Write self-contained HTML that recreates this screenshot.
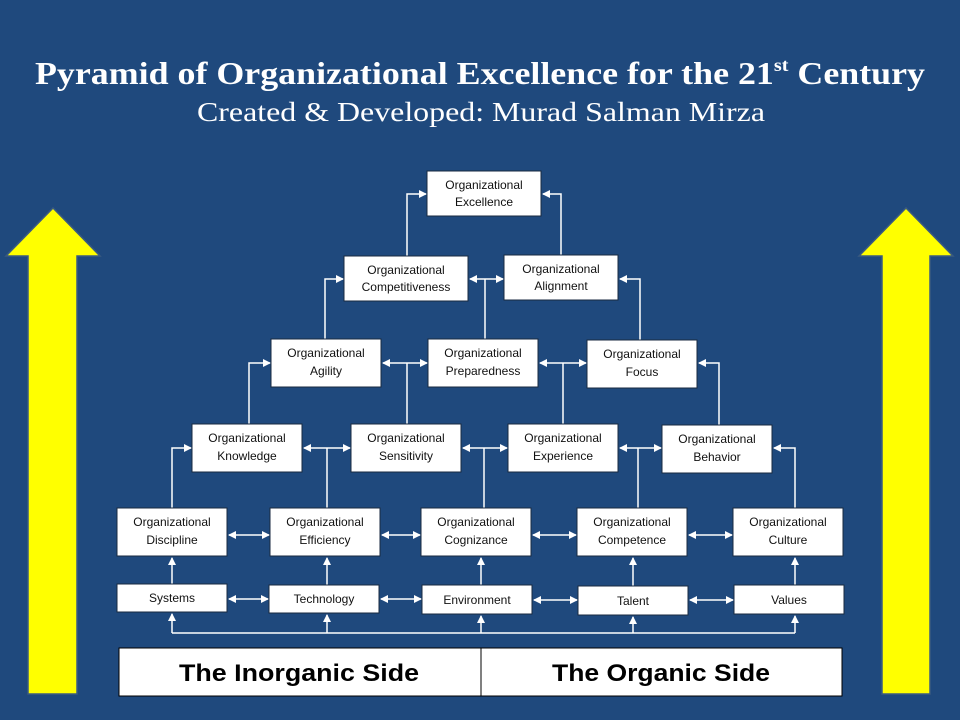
<!DOCTYPE html>
<html><head><meta charset="utf-8"><style>
html,body{margin:0;padding:0;background:#1f497d;}
svg{display:block}
.b{fill:#fff;stroke:#1a2a40;stroke-width:1}
.t{font-family:"Liberation Sans",sans-serif;font-size:12px;fill:#111;text-anchor:middle}
.l{stroke:#fff;stroke-width:1.5;fill:none}
</style></head><body>
<svg width="960" height="720" viewBox="0 0 960 720" xmlns="http://www.w3.org/2000/svg">
<defs>
<marker id="a" markerWidth="8" markerHeight="8" refX="7" refY="4" orient="auto-start-reverse" markerUnits="userSpaceOnUse">
<path d="M0,0 L8,4 L0,8 z" fill="#fff"/></marker>
</defs>
<rect width="960" height="720" fill="#1f497d"/>
<text x="480" y="84" font-family="'Liberation Serif',serif" font-weight="bold" font-size="32" fill="#fff" text-anchor="middle" textLength="890" lengthAdjust="spacingAndGlyphs">Pyramid of Organizational  Excellence for the 21<tspan font-size="18" dy="-13">st</tspan><tspan dy="13"> Century</tspan></text>
<text x="481" y="121" font-family="'Liberation Serif',serif" font-size="27" fill="#fff" text-anchor="middle" textLength="568" lengthAdjust="spacingAndGlyphs">Created &amp; Developed: Murad Salman Mirza</text>

<!-- yellow arrows -->
<path d="M28,694 L28,256 L6,256 L53,208 L100,256 L77,256 L77,694 z" fill="#ffff00" stroke="#3a5a80" stroke-width="1.5"/>
<path d="M882,694 L882,256 L859,256 L906,208 L953,256 L930,256 L930,694 z" fill="#ffff00" stroke="#3a5a80" stroke-width="1.5"/>

<!-- connectors -->
<g class="l">
<path d="M172,633 L795,633"/>
<path d="M172,633 L172,614" marker-end="url(#a)"/>
<path d="M327,633 L327,615" marker-end="url(#a)"/>
<path d="M481,633 L481,616" marker-end="url(#a)"/>
<path d="M633,633 L633,617" marker-end="url(#a)"/>
<path d="M795,633 L795,616" marker-end="url(#a)"/>
<!-- bottom row horizontals -->
<path d="M229,599 L268,599" marker-start="url(#a)" marker-end="url(#a)"/>
<path d="M381,599 L421,599" marker-start="url(#a)" marker-end="url(#a)"/>
<path d="M534,600 L577,600" marker-start="url(#a)" marker-end="url(#a)"/>
<path d="M690,600 L733,600" marker-start="url(#a)" marker-end="url(#a)"/>
<!-- bottom to level1 -->
<path d="M172,584 L172,558" marker-end="url(#a)"/>
<path d="M327,585 L327,558" marker-end="url(#a)"/>
<path d="M481,585 L481,558" marker-end="url(#a)"/>
<path d="M633,586 L633,558" marker-end="url(#a)"/>
<path d="M795,585 L795,558" marker-end="url(#a)"/>
<!-- level1 horizontals -->
<path d="M229,535 L269,535" marker-start="url(#a)" marker-end="url(#a)"/>
<path d="M382,535 L420,535" marker-start="url(#a)" marker-end="url(#a)"/>
<path d="M533,535 L576,535" marker-start="url(#a)" marker-end="url(#a)"/>
<path d="M689,535 L732,535" marker-start="url(#a)" marker-end="url(#a)"/>
<!-- level1 to level2 -->
<path d="M172,508 L172,448 L191,448" marker-end="url(#a)"/>
<path d="M327,508 L327,448"/>
<path d="M484,508 L484,448"/>
<path d="M638,508 L638,448"/>
<path d="M795,508 L795,448 L774,448" marker-end="url(#a)"/>
<!-- level2 horizontals -->
<path d="M304,448 L350,448" marker-start="url(#a)" marker-end="url(#a)"/>
<path d="M463,448 L507,448" marker-start="url(#a)" marker-end="url(#a)"/>
<path d="M620,448 L661,448" marker-start="url(#a)" marker-end="url(#a)"/>
<!-- level2 to level3 -->
<path d="M249,424 L249,363 L270,363" marker-end="url(#a)"/>
<path d="M407,424 L407,363"/>
<path d="M563,424 L563,363"/>
<path d="M719,425 L719,363 L699,363" marker-end="url(#a)"/>
<!-- level3 horizontals -->
<path d="M383,363 L427,363" marker-start="url(#a)" marker-end="url(#a)"/>
<path d="M540,363 L586,363" marker-start="url(#a)" marker-end="url(#a)"/>
<!-- level3 to level4 -->
<path d="M325,339 L325,279 L343,279" marker-end="url(#a)"/>
<path d="M485,339 L485,279"/>
<path d="M640,340 L640,279 L620,279" marker-end="url(#a)"/>
<path d="M470,279 L503,279" marker-start="url(#a)" marker-end="url(#a)"/>
<!-- level4 to top -->
<path d="M407,256 L407,194 L426,194" marker-end="url(#a)"/>
<path d="M561,255 L561,194 L543,194" marker-end="url(#a)"/>
</g>

<!-- boxes -->
<g>
<rect class="b" x="427" y="171" width="114" height="45"/><text class="t" x="484" y="189">Organizational</text><text class="t" x="484" y="206">Excellence</text>
<rect class="b" x="344" y="256" width="124" height="45"/><text class="t" x="406" y="274">Organizational</text><text class="t" x="406" y="291">Competitiveness</text>
<rect class="b" x="504" y="255" width="114" height="45"/><text class="t" x="561" y="273">Organizational</text><text class="t" x="561" y="290">Alignment</text>
<rect class="b" x="271" y="339" width="110" height="48"/><text class="t" x="326" y="357">Organizational</text><text class="t" x="326" y="375">Agility</text>
<rect class="b" x="428" y="339" width="110" height="48"/><text class="t" x="483" y="357">Organizational</text><text class="t" x="483" y="375">Preparedness</text>
<rect class="b" x="587" y="340" width="110" height="48"/><text class="t" x="642" y="358">Organizational</text><text class="t" x="642" y="376">Focus</text>
<rect class="b" x="192" y="424" width="110" height="48"/><text class="t" x="247" y="442">Organizational</text><text class="t" x="247" y="460">Knowledge</text>
<rect class="b" x="351" y="424" width="110" height="48"/><text class="t" x="406" y="442">Organizational</text><text class="t" x="406" y="460">Sensitivity</text>
<rect class="b" x="508" y="424" width="110" height="48"/><text class="t" x="563" y="442">Organizational</text><text class="t" x="563" y="460">Experience</text>
<rect class="b" x="662" y="425" width="110" height="48"/><text class="t" x="717" y="443">Organizational</text><text class="t" x="717" y="461">Behavior</text>
<rect class="b" x="117" y="508" width="110" height="48"/><text class="t" x="172" y="526">Organizational</text><text class="t" x="172" y="544">Discipline</text>
<rect class="b" x="270" y="508" width="110" height="48"/><text class="t" x="325" y="526">Organizational</text><text class="t" x="325" y="544">Efficiency</text>
<rect class="b" x="421" y="508" width="110" height="48"/><text class="t" x="476" y="526">Organizational</text><text class="t" x="476" y="544">Cognizance</text>
<rect class="b" x="577" y="508" width="110" height="48"/><text class="t" x="632" y="526">Organizational</text><text class="t" x="632" y="544">Competence</text>
<rect class="b" x="733" y="508" width="110" height="48"/><text class="t" x="788" y="526">Organizational</text><text class="t" x="788" y="544">Culture</text>
<rect class="b" x="117" y="584" width="110" height="28"/><text class="t" x="172" y="602">Systems</text>
<rect class="b" x="269" y="585" width="110" height="28"/><text class="t" x="324" y="603">Technology</text>
<rect class="b" x="422" y="585" width="110" height="29"/><text class="t" x="477" y="604">Environment</text>
<rect class="b" x="578" y="586" width="110" height="29"/><text class="t" x="633" y="605">Talent</text>
<rect class="b" x="734" y="585" width="110" height="29"/><text class="t" x="789" y="604">Values</text>
</g>

<!-- bottom table -->
<rect x="119" y="648" width="723" height="48" fill="#fff" stroke="#000" stroke-width="1"/>
<line x1="481" y1="648" x2="481" y2="696" stroke="#000" stroke-width="1"/>
<text x="299" y="681" font-family="'Liberation Sans',sans-serif" font-weight="bold" font-size="24" fill="#000" text-anchor="middle" textLength="240" lengthAdjust="spacingAndGlyphs">The Inorganic Side</text>
<text x="661" y="681" font-family="'Liberation Sans',sans-serif" font-weight="bold" font-size="24" fill="#000" text-anchor="middle" textLength="218" lengthAdjust="spacingAndGlyphs">The Organic Side</text>
</svg>
</body></html>
